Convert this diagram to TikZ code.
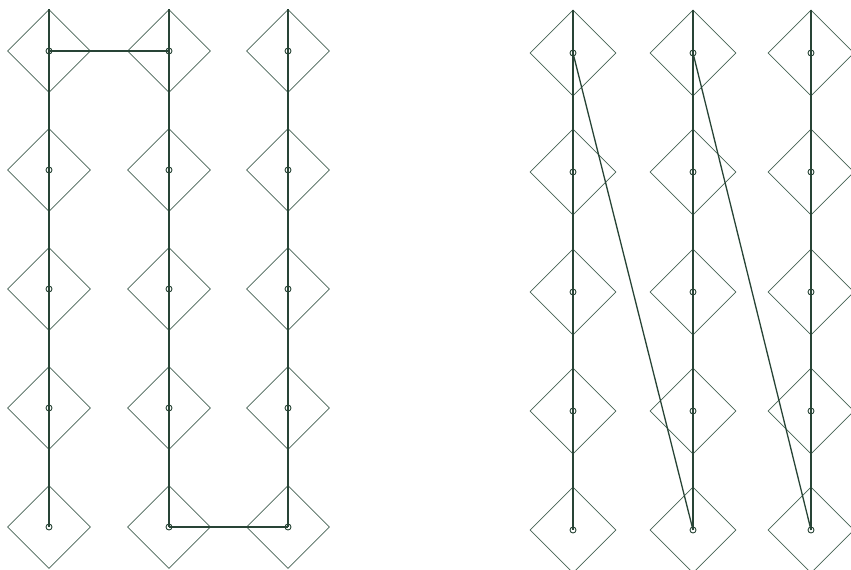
\documentclass[tikz,border=0pt]{standalone}
\usepackage{tikz}
\usepackage{xcolor}
\usetikzlibrary{shapes.geometric}
\definecolor{wireGreen}{RGB}{40,68,54}
\definecolor{cellGreen}{RGB}{70,98,84}
\tikzset{
  cell/.style={diamond,aspect=1,draw=cellGreen,line width=0.8pt,inner sep=0pt,minimum width=#1,minimum height=#1},
  cell/.default=84pt,
  pin/.style={circle,draw=wireGreen,line width=0.9pt,inner sep=0pt,minimum size=6pt},
  wire/.style={draw=wireGreen,line width=1.3pt}
}

\begin{document}
\begin{tikzpicture}[x=1pt,y=-1pt]
\useasboundingbox (0,0) rectangle (851,570);
% left array: snake order
\foreach \c/\x in {1/49,2/169,3/288}{
  \foreach \r/\y in {1/51,2/170,3/289,4/408,5/527}{
    \node[cell=83pt] (L\c\r) at (\x,\y) {};
  }
  \draw[wire] (L\c1.north) -- (L\c5.center);
}
\draw[wire] (L11.center) -- (L21.center);
\draw[wire] (L25.center) -- (L35.center);
% right array: diagonal order
\foreach \c/\x in {1/573,2/693,3/811}{
  \foreach \r/\y in {1/53,2/172,3/292,4/411,5/530}{
    \node[cell=86pt] (R\c\r) at (\x,\y) {};
  }
  \draw[wire] (R\c1.north) -- (R\c5.center);
}
\draw[wire] (R11.center) -- (R25.center);
\draw[wire] (R21.center) -- (R35.center);
% pins on every cell
\foreach \g in {L,R}{
  \foreach \c in {1,2,3}{
    \foreach \r in {1,...,5}{
      \node[pin] at (\g\c\r.center) {};
    }
  }
}
\end{tikzpicture}
\end{document}
